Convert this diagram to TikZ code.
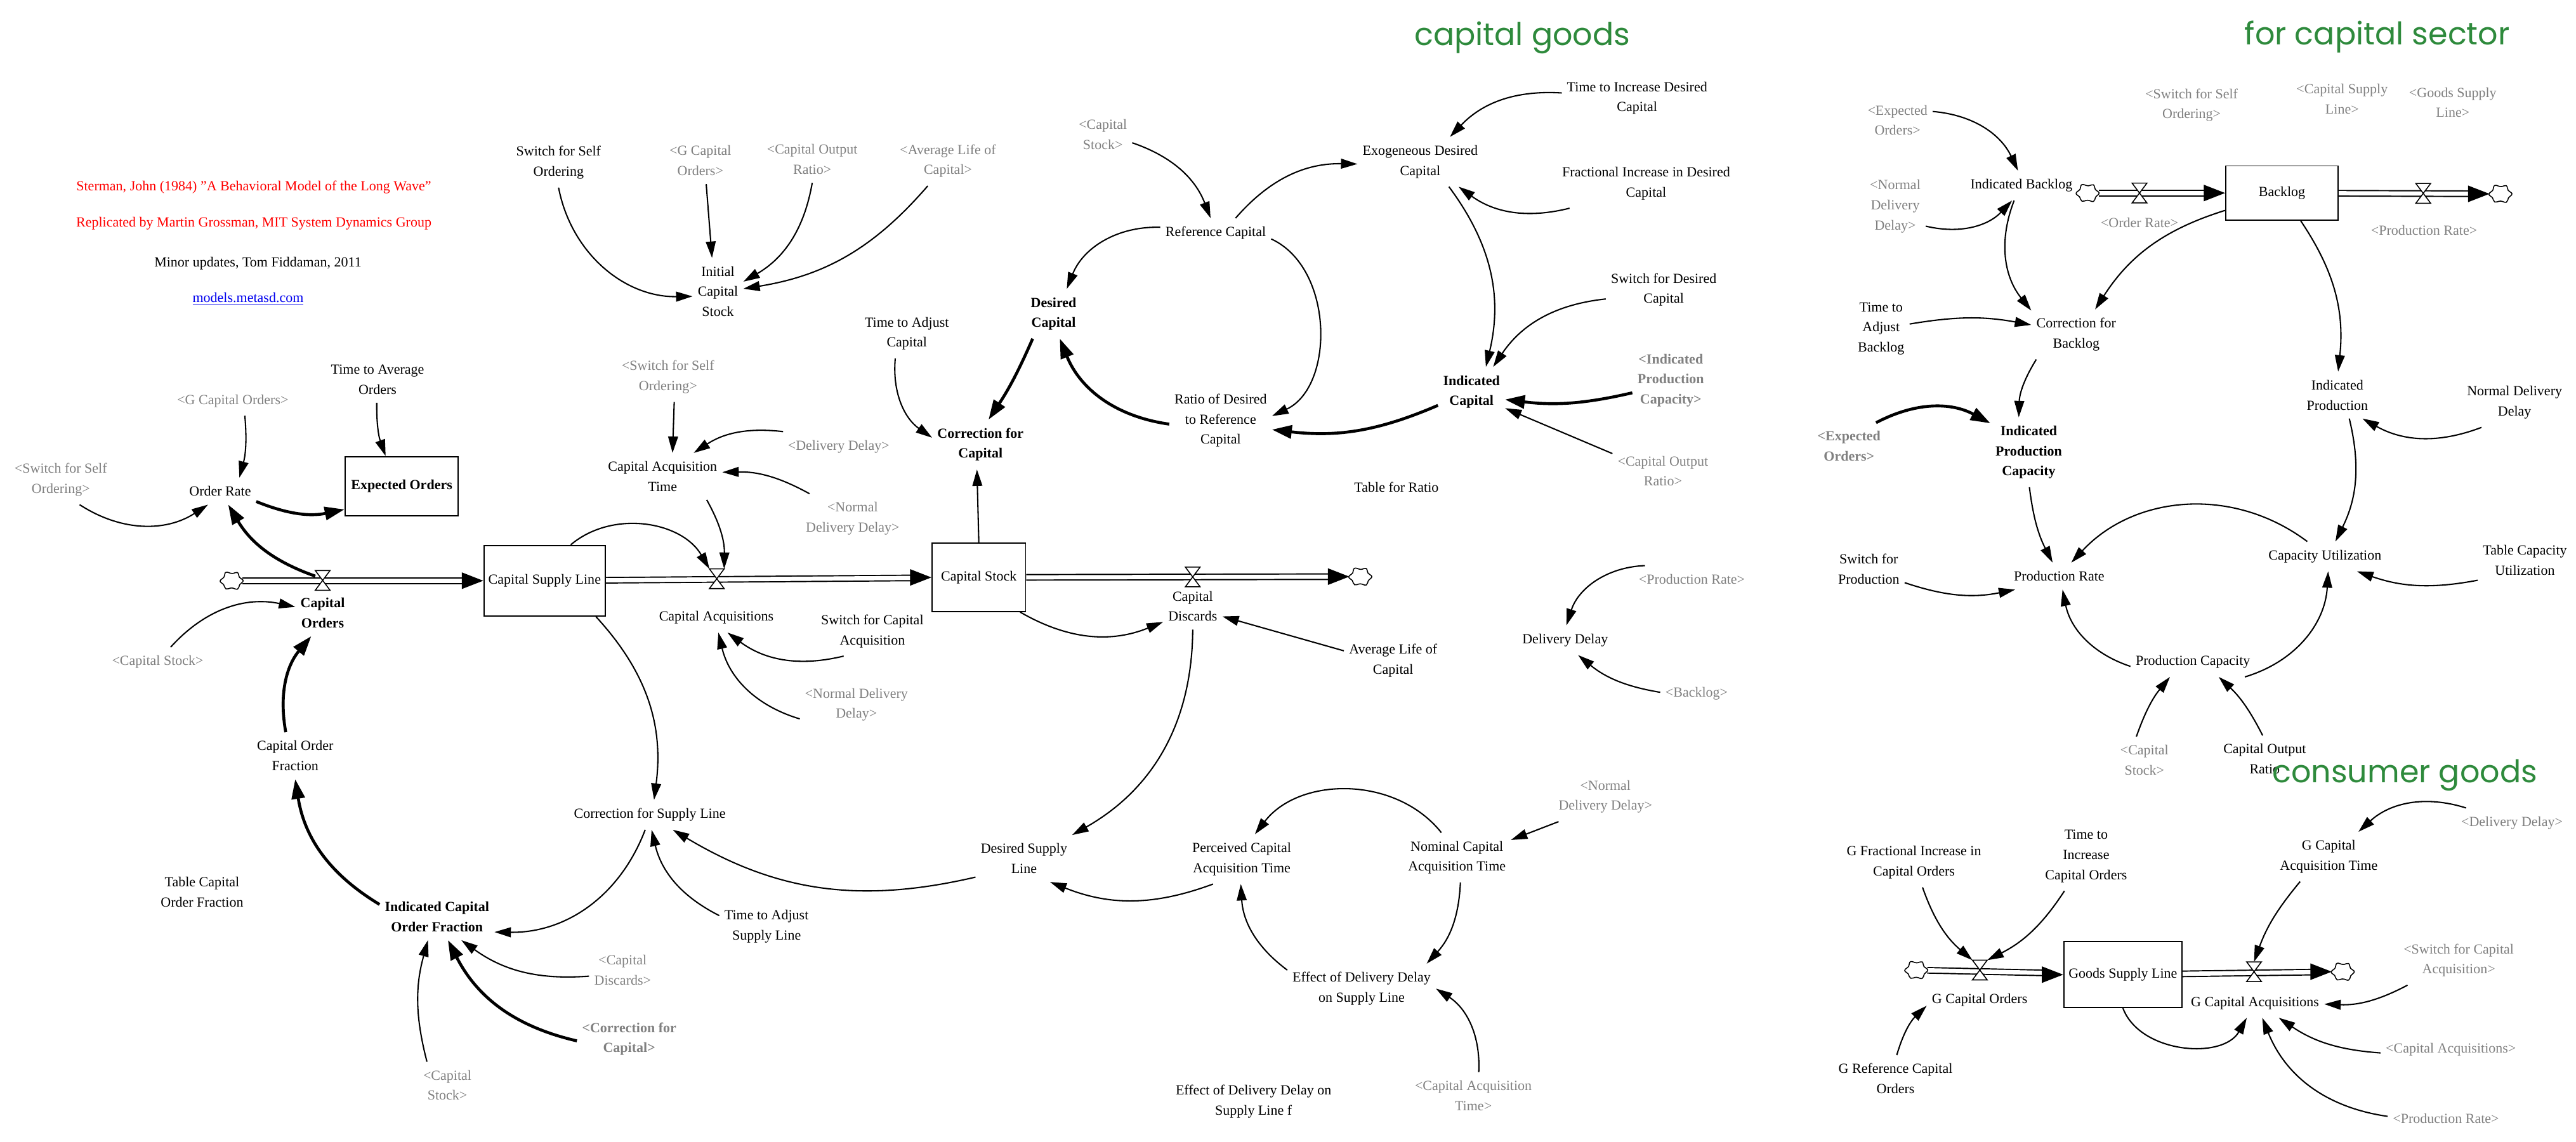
\documentclass[tikz,border=0pt]{standalone}
\usepackage{fontspec}
\setmainfont{Liberation Serif}
\newfontfamily\handfont{Poppins}
\usetikzlibrary{arrows.meta}
\newcommand{\lbfont}{\fontsize{8.5}{12.2}\selectfont}
\newcommand{\valveshape}[1]{\filldraw[fill=white,line width=0.6pt] (#1.north west) -- (#1.north east) -- (#1.south west) -- (#1.south east) -- cycle;}
\newcommand{\cloudshape}[1]{\filldraw[fill=white,line width=0.6pt,shift={(#1.center)}] plot[smooth cycle, tension=0.8] coordinates {(7,0) (4.7,-2.1) (3.5,-5) (0.3,-4.4) (-3.5,-5.1) (-4.6,-2.3) (-7,0.2) (-4.9,2.3) (-3.4,5) (0,4.4) (3.6,5.1) (4.9,2.4)};}
\definecolor{vgray}{RGB}{128,128,128}
\definecolor{vgreen}{RGB}{46,138,60}
\definecolor{vblue}{RGB}{0,0,238}
\definecolor{vred}{RGB}{255,0,0}
\tikzset{
 lbl/.style={font=\lbfont, align=center, inner xsep=3pt, inner ysep=5pt},
 glbl/.style={lbl, text=vgray},
 blbl/.style={lbl, font=\lbfont\bfseries},
 gblbl/.style={lbl, font=\lbfont\bfseries, text=vgray},
 stock/.style={draw, line width=0.75pt, fill=white, inner sep=0pt, align=center, font=\lbfont},
 cloudn/.style={circle, minimum size=13pt, inner sep=0pt},
 valven/.style={minimum width=9pt, minimum height=12pt, inner sep=0pt, outer sep=0pt},
 arr/.style={line width=0.8pt, -{Triangle[length=10pt,width=6pt]}},
 barr/.style={line width=1.8pt, -{Triangle[length=12pt,width=8pt]}},
 pipe/.style={double=white, double distance=2.6pt, line width=0.75pt, shorten >=9pt},
 ptip/.style={line width=0.5pt, -{Triangle[length=13pt,width=10pt]}},
 hand/.style={font=\handfont\fontsize{19}{22}\selectfont, text=vgreen, anchor=base, inner sep=0pt}
}
\begin{document}
\begin{tikzpicture}[x=1pt,y=-1pt]
\useasboundingbox (0,0) rectangle (1568,694.8);

% ---------- titles ----------
\node[hand] (tcg) at (926.6,27.6) {capital goods};
\node[hand] (tcs) at (1447,27.2) {for capital sector};

% ---------- credits ----------
\node[lbl, text=vred] (t1) at (154.5,114) {Sterman, John (1984) "A Behavioral Model of the Long Wave"};
\node[lbl, text=vred] (t2) at (154.5,136) {Replicated by Martin Grossman, MIT System Dynamics Group};
\node[lbl] (t3) at (157,160.5) {Minor updates, Tom Fiddaman, 2011};
\node[lbl, text=vblue] (t4) at (151,182) {\underline{models.metasd.com}};

% ---------- left / top nodes ----------
\node[lbl] (ssoT) at (340,99) {Switch for Self\\Ordering};
\node[glbl] (gcoT) at (426.3,97.8) {<G Capital\\Orders>};
\node[glbl] (corT) at (494.4,97) {<Capital Output\\Ratio>};
\node[glbl] (alcT) at (577,98) {<Average Life of\\Capital>};
\node[lbl] (ics) at (437,177.4) {Initial\\Capital\\Stock};

\node[glbl] (gco1) at (141.7,244) {<G Capital Orders>};
\node[lbl] (tao) at (229.8,231) {Time to Average\\Orders};
\node[glbl] (sso1) at (37,292) {<Switch for Self\\Ordering>};
\node[lbl] (orate) at (134,299) {Order Rate};
\node[stock, font=\lbfont\bfseries, minimum width=69pt, minimum height=36pt] (eo) at (244.5,296) {Expected Orders};

\node[cloudn] (cloud1) at (141,353.5) {};
\node[valven] (valve1) at (196.4,353.3) {};
\node[blbl] (co) at (196.4,373) {Capital\\Orders};
\node[stock, minimum width=74pt, minimum height=43pt] (csl) at (331.5,353.5) {Capital Supply Line};
\node[glbl] (cs2) at (96,403) {<Capital Stock>};
\node[lbl] (cof) at (179.7,460) {Capital Order\\Fraction};
\node[lbl] (tcof) at (123,543) {Table Capital\\Order Fraction};
\node[blbl] (icof) at (266,558) {Indicated Capital\\Order Fraction};
\node[lbl] (cfsl) at (395.5,496) {Correction for Supply Line};
\node[glbl] (cd1) at (379,590.6) {<Capital\\Discards>};
\node[gblbl] (cfc1) at (383,632.5) {<Correction for\\Capital>};
\node[glbl] (cs3) at (272.3,660.6) {<Capital\\Stock>};
\node[lbl] (tasl) at (466.6,564) {Time to Adjust\\Supply Line};

% ---------- middle ----------
\node[glbl] (sso2) at (406.6,229.5) {<Switch for Self\\Ordering>};
\node[lbl] (cat) at (403.3,290) {Capital Acquisition\\Time};
\node[glbl] (dd1) at (510.5,271.8) {<Delivery Delay>};
\node[glbl] (ndd1) at (519,315.7) {<Normal\\Delivery Delay>};
\node[valven] (valve2) at (436.3,352.3) {};
\node[lbl] (ca) at (436,376) {Capital Acquisitions};
\node[lbl] (sca) at (531,384.2) {Switch for Capital\\Acquisition};
\node[glbl] (ndd2) at (521.3,429) {<Normal Delivery\\Delay>};
\node[lbl] (tac) at (552,203) {Time to Adjust\\Capital};
\node[blbl] (dc) at (641.3,191) {Desired\\Capital};
\node[blbl] (cfc) at (596.8,270.6) {Correction for\\Capital};
\node[stock, minimum width=57pt, minimum height=41.5pt] (cstock) at (595.8,351.5) {Capital Stock};
\node[valven] (valve3) at (726,351.2) {};
\node[lbl] (cdis) at (726,369) {Capital\\Discards};
\node[cloudn] (cloud3) at (828,351) {};
\node[lbl] (alc) at (848,402) {Average Life of\\Capital};
\node[lbl] (dsl) at (623.3,522.6) {Desired Supply\\Line};
\node[lbl] (pcat) at (755.8,523) {Perceived Capital\\Acquisition Time};
\node[lbl] (ncat) at (886.8,522) {Nominal Capital\\Acquisition Time};
\node[glbl] (ndd3) at (977.2,485) {<Normal\\Delivery Delay>};
\node[lbl] (edd) at (828.8,601.8) {Effect of Delivery Delay\\on Supply Line};
\node[glbl] (cat2) at (896.8,667) {<Capital Acquisition\\Time>};
\node[lbl] (eddf) at (763,670.6) {Effect of Delivery Delay on\\Supply Line f};

% ---------- upper middle ----------
\node[glbl] (cs1) at (671.3,81.8) {<Capital\\Stock>};
\node[lbl] (refc) at (740,141.9) {Reference Capital};
\node[lbl] (edc) at (864.5,98.5) {Exogeneous Desired\\Capital};
\node[lbl] (tidc) at (996.5,59.8) {Time to Increase Desired\\Capital};
\node[lbl] (fidc) at (1002,111.6) {Fractional Increase in Desired\\Capital};
\node[lbl] (sdc) at (1012.7,176.4) {Switch for Desired\\Capital};
\node[gblbl] (ipc1) at (1017,231.5) {<Indicated\\Production\\Capacity>};
\node[glbl] (cor2) at (1012.2,286.7) {<Capital Output\\Ratio>};
\node[blbl] (ic) at (895.7,238.5) {Indicated\\Capital};
\node[lbl] (ratio) at (743,256) {Ratio of Desired\\to Reference\\Capital};
\node[lbl] (tfr) at (850,296.6) {Table for Ratio};
\node[glbl] (pr1) at (1029.8,352.5) {<Production Rate>};
\node[lbl] (ddl) at (952.7,389.7) {Delivery Delay};
\node[glbl] (bl1) at (1032.7,422.2) {<Backlog>};

% ---------- right top ----------
\node[glbl] (eo2) at (1155,73.2) {<Expected\\Orders>};
\node[glbl] (sso3) at (1334,64) {<Switch for Self\\Ordering>};
\node[glbl] (csl3) at (1425.6,60.2) {<Capital Supply\\Line>};
\node[glbl] (gsl3) at (1493,62.3) {<Goods Supply\\Line>};
\node[lbl] (ib) at (1230.4,113) {Indicated Backlog};
\node[glbl] (ndd4) at (1153.6,125.6) {<Normal\\Delivery\\Delay>};
\node[cloudn] (cloud4) at (1270.7,117.5) {};
\node[valven] (valve4) at (1302.3,117.5) {};
\node[stock, minimum width=68.5pt, minimum height=33pt] (backlog) at (1389,117.5) {Backlog};
\node[valven] (valve5) at (1475,117.7) {};
\node[cloudn] (cloud5) at (1522,118) {};
\node[glbl] (orr) at (1302.3,135.6) {<Order Rate>};
\node[glbl] (pr2) at (1475.5,140.3) {<Production Rate>};
\node[lbl] (tab) at (1145,200) {Time to\\Adjust\\Backlog};
\node[lbl] (cfb) at (1263.8,203.6) {Correction for\\Backlog};
\node[blbl] (ipc) at (1234.9,275.3) {Indicated\\Production\\Capacity};
\node[gblbl] (eo3) at (1125.5,271.6) {<Expected\\Orders>};
\node[lbl] (ip) at (1422.7,240.5) {Indicated\\Production};
\node[lbl] (ndd5) at (1530.6,245) {Normal Delivery\\Delay};
\node[lbl] (cu) at (1415.2,338.7) {Capacity Utilization};
\node[lbl] (tcu) at (1536.9,341) {Table Capacity\\Utilization};
\node[lbl] (sfp) at (1137.5,346.3) {Switch for\\Production};
\node[lbl] (prate) at (1253.4,350.7) {Production Rate};
\node[lbl] (pc) at (1334.8,403) {Production Capacity};
\node[glbl] (cs4) at (1305.3,462.7) {<Capital\\Stock>};
\node[lbl] (cor3) at (1378.5,462) {Capital Output\\Ratio};

% ---------- right bottom ----------
\node[glbl] (dd2) at (1529,500.9) {<Delivery Delay>};
\node[lbl] (gcat) at (1417.5,521.5) {G Capital\\Acquisition Time};
\node[lbl] (gfi) at (1165,525) {G Fractional Increase in\\Capital Orders};
\node[lbl] (ticp) at (1269.8,521.2) {Time to\\Increase\\Capital Orders};
\node[cloudn] (cloud6) at (1166.4,590.5) {};
\node[valven] (valve6) at (1205.1,590.5) {};
\node[stock, minimum width=72pt, minimum height=40pt] (gsl) at (1292.2,593.3) {Goods Supply Line};
\node[valven] (valve7) at (1372,591.5) {};
\node[cloudn] (cloud7) at (1426,591.5) {};
\node[lbl] (gco) at (1205,608.8) {G Capital Orders};
\node[lbl] (gca) at (1372.6,610.5) {G Capital Acquisitions};
\node[glbl] (sca2) at (1496.6,584.5) {<Switch for Capital\\Acquisition>};
\node[glbl] (ca2) at (1491.8,638.7) {<Capital Acquisitions>};
\node[glbl] (pr3) at (1488.8,680.8) {<Production Rate>};
\node[lbl] (grco) at (1153.8,656.6) {G Reference Capital\\Orders};

% ---------- pipes ----------
\draw[pipe] (cloud1) -- (csl);
\draw[ptip] ([xshift=-2pt]csl.west) -- (csl.west);
\draw[pipe] (csl) -- (cstock);
\draw[ptip] ([xshift=-2pt]cstock.west) -- (cstock.west);
\draw[pipe] (cstock) -- (cloud3);
\draw[ptip] ([xshift=-2pt]cloud3.west) -- (cloud3.west);
\draw[pipe] (cloud4) -- (backlog);
\draw[ptip] ([xshift=-2pt]backlog.west) -- (backlog.west);
\draw[pipe] (backlog) -- (cloud5);
\draw[ptip] ([xshift=-2pt]cloud5.west) -- (cloud5.west);
\draw[pipe] (cloud6) -- (gsl);
\draw[ptip] ([xshift=-2pt]gsl.west) -- (gsl.west);
\draw[pipe] (gsl) -- (cloud7);
\draw[ptip] ([xshift=-2pt]cloud7.west) -- (cloud7.west);
\cloudshape{cloud1}
\cloudshape{cloud3}
\cloudshape{cloud4}
\cloudshape{cloud5}
\cloudshape{cloud6}
\cloudshape{cloud7}
\valveshape{valve1}
\valveshape{valve2}
\valveshape{valve3}
\valveshape{valve4}
\valveshape{valve5}
\valveshape{valve6}
\valveshape{valve7}

% ---------- connectors: left ----------
\draw[arr] (sso1.-53) to[bend right=33] (orate.-132);
\draw[arr] (gco1.-51) to[bend left=10] (orate.35);
\draw[arr] (tao.-92) to[bend right=10] (eo.118);
\draw[barr] (orate.-16) to[bend right=17] (eo.-158);
\draw[barr] (valve1.150) to[bend left=20] (orate.-59);
\draw[arr] (cs2.49) to[bend left=30] (co.168);
\draw[barr] (cof.112) to[bend left=25] (co.-116);
\draw[barr] (icof.168) to[bend left=25] (cof.-90);
\draw[arr] (csl.-35) to[bend left=25] (cfsl.74);
\draw[arr] (cfsl.-107) to[bend left=35] (icof.-15);
\draw[arr] (cd1.-170) to[bend left=20] (icof.-44);
\draw[barr] (cfc1.-178) to[bend left=25] (icof.-65);
\draw[arr] (cs3.131) to[bend left=15] (icof.-111);
\draw[arr] (tasl.167) to[bend left=25] (cfsl.-83);
\draw[arr] (dsl.-159) to[bend left=22] (cfsl.-33);

% ---------- connectors: middle ----------
\draw[arr] (cdis.-90) to[bend left=30] (dsl.26);
\draw[arr] (pcat.-139) to[bend left=21] (dsl.-42);
\draw[arr] (cstock.-40) to[bend right=26] (cdis.-152);
\draw[arr] (alc.169) -- (cdis.-19);
\draw[arr] (cstock.north) -- (cfc.-98);
\draw[arr] (tac.-115) to[bend right=30] (cfc.172);
\draw[barr] (dc.-130) to[bend left=5] (cfc.72);
\draw[barr] (ratio.-176) to[bend left=30] (dc.-76);
\draw[arr] (refc.174) to[bend right=35] (dc.62);
\draw[arr] (refc.-6) to[bend left=65] (ratio.5);
\draw[arr] (cs1.-16) to[bend left=25] (refc.109);
\draw[arr] (refc.37) to[bend left=25] (edc.-178);
\draw[arr] (tidc.176) to[bend right=25] (edc.40);
\draw[arr] (fidc.-162) to[bend left=25] (edc.-33);
\draw[arr] (edc.-41) to[bend left=25] (ic.60);
\draw[arr] (sdc.-171) to[bend right=25] (ic.49);
\draw[barr] (ipc1.-162) to[bend left=10] (ic.-13);
\draw[arr] (cor2.161) -- (ic.-26);
\draw[barr] (ic.-158) to[bend left=15] (ratio.-10);
\draw[arr] (ssoT.-90) to[bend right=40] (ics.-169);
\draw[arr] (gcoT.-76) -- (ics.100);
\draw[arr] (corT.-90) to[bend left=25] (ics.21);
\draw[arr] (alcT.-129) to[bend left=20] (ics.6);
\draw[arr] (sso2.-76) -- (cat.67);
\draw[arr] (dd1.165) to[bend right=20] (cat.37);
\draw[arr] (ndd1.150) to[bend right=15] (cat.4);
\draw[arr] (cat.-28) to[bend left=15] (valve2.north east);
\draw[arr] (csl.54) to[bend left=50] (valve2.north west);
\draw[arr] (sca.-139) to[bend left=25] (ca.-53);
\draw[arr] (ndd2.-166) to[bend left=30] (ca.-82);
\draw[arr] (pr1.164) to[bend right=35] (ddl.85);
\draw[arr] (bl1.178) to[bend left=15] (ddl.-49);
\draw[arr] (ndd3.-152) -- (ncat.18);
\draw[arr] (ncat.122) to[bend right=52] (pcat.62);
\draw[arr] (ncat.-82) to[bend left=20] (edd.21);
\draw[arr] (edd.166) to[bend left=25] (pcat.-92);
\draw[arr] (cat2.77) to[bend right=30] (edd.0);

% ---------- connectors: right ----------
\draw[arr] (eo2.14) to[bend left=30] (ib.103);
\draw[arr] (ndd4.-33) to[bend right=30] (ib.-122);
\draw[arr] (ib.-116) to[bend right=30] (cfb.152);
\draw[arr] (backlog.-163) to[bend right=20] (cfb.53);
\draw[arr] (tab.9) to[bend left=10] (cfb.168);
\draw[arr] (cfb.-148) to[bend right=15] (ipc.106);
\draw[barr] (eo3.41) to[bend left=28] (ipc.143);
\draw[arr] (backlog.-56) to[bend left=20] (ip.88);
\draw[arr] (ndd5.-143) to[bend left=25] (ip.-43);
\draw[arr] (ip.-63) to[bend left=20] (cu.55);
\draw[arr] (ipc.-89) to[bend right=10] (prate.116);
\draw[arr] (cu.140) to[bend right=42] (prate.48);
\draw[arr] (tcu.-157) to[bend left=15] (cu.-25);
\draw[arr] (sfp.-21) to[bend right=15] (prate.-163);
\draw[arr] (pc.-176) to[bend left=30] (prate.-76);
\draw[arr] (pc.-16) to[bend right=35] (cu.-78);
\draw[arr] (cs4.109) to[bend left=10] (pc.-147);
\draw[arr] (cor3.95) to[bend right=10] (pc.-30);
\draw[arr] (dd2.162) to[bend right=30] (gcat.40);
\draw[arr] (gcat.-139) to[bend right=10] (valve7.north);
\draw[arr] (gfi.-71) to[bend right=15] (valve6.north west);
\draw[arr] (ticp.-122) to[bend left=15] (valve6.north east);
\draw[arr] (grco.87) to[bend left=15] (gco.-174);
\draw[arr] (sca2.-154) to[bend left=15] (gca.-1);
\draw[arr] (gsl.south) to[bend right=65] (gca.-119);
\draw[arr] (ca2.-177) to[bend left=15] (gca.-32);
\draw[arr] (pr3.178) to[bend left=30] (gca.-64);

% green overlay title
\node[hand] (tcons) at (1463.8,476.5) {consumer goods};
\end{tikzpicture}
\end{document}
